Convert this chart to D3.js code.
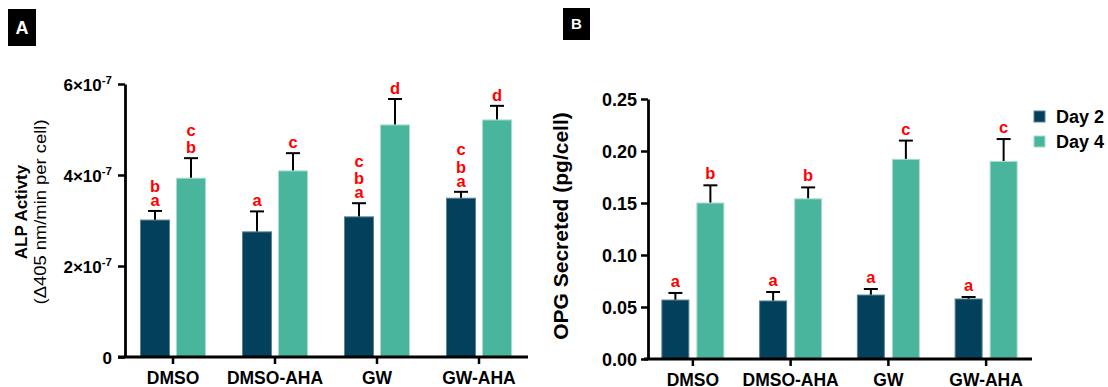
<!DOCTYPE html>
<html>
<head>
<meta charset="utf-8">
<script src="https://cdn.jsdelivr.net/npm/d3@7"></script>
<style>
  html, body { margin: 0; padding: 0; background: #fff; }
  svg { display: block; }
  text { font-family: "Liberation Sans", Arial, sans-serif; }
</style>
</head>
<body>
<svg id="chart" width="1108" height="387"></svg>
<script>
// ---------- data ----------
const categories = ["DMSO", "DMSO-AHA", "GW", "GW-AHA"];
const seriesNames = ["Day 2", "Day 4"];

// Panel A: ALP activity
const alpDay2 = [3.01e-7, 2.75e-7, 3.08e-7, 3.49e-7];
const alpDay2Err = [0.20e-7, 0.45e-7, 0.30e-7, 0.14e-7];
const alpDay4 = [3.93e-7, 4.09e-7, 5.10e-7, 5.21e-7];
const alpDay4Err = [0.44e-7, 0.39e-7, 0.57e-7, 0.31e-7];
const alpDay2Letters = [["a", "b"], ["a"], ["a", "b", "c"], ["a", "b", "c"]];
const alpDay4Letters = [["b", "c"], ["c"], ["d"], ["d"]];
const alpTicks = [0, 2e-7, 4e-7, 6e-7];

// Panel B: OPG secreted
const opgDay2 = [0.0567, 0.0558, 0.0615, 0.0577];
const opgDay2Err = [0.0068, 0.0086, 0.0058, 0.0019];
const opgDay4 = [0.150, 0.154, 0.192, 0.190];
const opgDay4Err = [0.017, 0.011, 0.018, 0.0215];
const opgDay2Letters = [["a"], ["a"], ["a"], ["a"]];
const opgDay4Letters = [["b"], ["b"], ["c"], ["c"]];
const opgTicks = [0, 0.05, 0.10, 0.15, 0.20, 0.25];

// ---------- style ----------
const colors = { "Day 2": "#03405C", "Day 4": "#4AB59D" };
const strokes = { "Day 2": "#5C8294", "Day 4": "#A9DCD0" };
const svg = d3.select("#chart");
const FONT = "'Liberation Sans', Arial, sans-serif";

function panel(opts) {
  const g = svg.append("g");
  const x = d3.scaleBand().domain(categories).range(opts.xRange);
  const sub = d3.scaleBand().domain(seriesNames)
    .range([-opts.groupW / 2, opts.groupW / 2]).paddingInner(opts.subPad);
  const y = d3.scaleLinear().domain(opts.yDomain).range(opts.yRange);

  const series = [
    { name: "Day 2", vals: opts.d2, err: opts.d2e, letters: opts.d2l },
    { name: "Day 4", vals: opts.d4, err: opts.d4e, letters: opts.d4l }
  ];
  const rows = [];
  series.forEach(s => categories.forEach((c, i) => rows.push({
    cat: c, name: s.name, v: s.vals[i], e: s.err[i], letters: s.letters[i]
  })));
  const cx = d => x(d.cat) + x.bandwidth() / 2 + sub(d.name) + sub.bandwidth() / 2;

  // error bars (upward only)
  const eb = g.append("g").attr("stroke", "#000").attr("stroke-width", 2);
  eb.selectAll("line.v").data(rows).join("line")
    .attr("x1", cx).attr("x2", cx)
    .attr("y1", d => y(d.v)).attr("y2", d => y(d.v + d.e));
  eb.selectAll("line.c").data(rows).join("line")
    .attr("x1", d => cx(d) - 7).attr("x2", d => cx(d) + 7)
    .attr("y1", d => y(d.v + d.e)).attr("y2", d => y(d.v + d.e));

  // bars
  g.append("g").selectAll("rect").data(rows).join("rect")
    .attr("x", d => cx(d) - sub.bandwidth() / 2)
    .attr("width", sub.bandwidth())
    .attr("y", d => y(d.v))
    .attr("height", d => y(0) - y(d.v))
    .attr("fill", d => colors[d.name])
    .attr("stroke", d => strokes[d.name])
    .attr("stroke-width", 1);

  // significance letters (bottom to top)
  rows.forEach(d => {
    let base = y(d.v + d.e) - opts.letterGap;
    d.letters.forEach((L, k) => {
      if (k > 0) base -= (d.letters[k - 1] === "a") ? 14 : 17.5;
      g.append("text").attr("x", cx(d)).attr("y", base)
        .attr("text-anchor", "middle")
        .attr("fill", "#FF0000").attr("font-weight", "bold")
        .attr("font-size", 16.5).attr("font-family", "'Open Sans', sans-serif")
        .text(L);
    });
  });

  // y axis
  const ya = g.append("g").attr("transform", `translate(${opts.yAxisX},0)`)
    .call(d3.axisLeft(y).tickValues(opts.ticks).tickSize(7).tickSizeOuter(0).tickFormat(""));
  ya.select(".domain").attr("stroke-width", 2.8);
  ya.selectAll(".tick line").attr("stroke-width", 2.5);
  ya.selectAll(".tick").each(function (t) { opts.tickLabel(d3.select(this), t); });

  // x axis
  const xa = g.append("g").attr("transform", `translate(0,${y(0)})`)
    .call(d3.axisBottom(x).tickSize(7).tickSizeOuter(0).tickFormat(""));
  xa.select(".domain").attr("stroke-width", 2.8)
    .attr("d", `M${opts.xAxisStart},0H${opts.xAxisEnd}`);
  xa.selectAll(".tick line").attr("stroke-width", 2.5);
  xa.selectAll(".tick").append("text")
    .attr("y", opts.xLabelY - y(0)).attr("fill", "#000")
    .attr("text-anchor", "middle").attr("font-weight", "bold")
    .attr("font-size", 17.5).attr("font-family", FONT)
    .text(d => d);
  return { x, y, g };
}

// ---------- Panel A ----------
panel({
  xRange: [122, 530], groupW: 65, subPad: 0.194,
  yDomain: [0, 6e-7], yRange: [357, 84], yAxisX: 125,
  xAxisStart: 118, xAxisEnd: 528, xLabelY: 384,
  d2: alpDay2, d2e: alpDay2Err, d4: alpDay4, d4e: alpDay4Err,
  d2l: alpDay2Letters, d4l: alpDay4Letters, letterGap: 5, ticks: alpTicks,
  tickLabel: (sel, t) => {
    const txt = sel.append("text").attr("x", -13).attr("y", 6)
      .attr("text-anchor", "end").attr("fill", "#000")
      .attr("font-weight", "bold").attr("font-size", 17).attr("font-family", FONT);
    if (t === 0) { txt.text("0"); return; }
    txt.append("tspan").text(`${Math.round(t / 1e-7)}×10`);
    txt.append("tspan").attr("dy", -7).attr("font-size", 11.5).text("-7");
  }
});

// Panel A y title
const ta = svg.append("g").attr("transform", "translate(27,212) rotate(-90)");
ta.append("text").attr("text-anchor", "middle").attr("font-weight", "bold")
  .attr("font-size", 17).attr("font-family", FONT).text("ALP Activty");
ta.append("text").attr("y", 19).attr("text-anchor", "middle")
  .attr("font-size", 17).attr("font-family", FONT)
  .attr("textLength", 185).attr("lengthAdjust", "spacingAndGlyphs")
  .text("(Δ405 nm/min per cell)");

// ---------- Panel B ----------
panel({
  xRange: [644, 1035], groupW: 62, subPad: 0.229,
  yDomain: [0, 0.25], yRange: [359, 99], yAxisX: 648,
  xAxisStart: 644, xAxisEnd: 1032, xLabelY: 386,
  d2: opgDay2, d2e: opgDay2Err, d4: opgDay4, d4e: opgDay4Err,
  d2l: opgDay2Letters, d4l: opgDay4Letters, letterGap: 6, ticks: opgTicks,
  tickLabel: (sel, t) => {
    sel.append("text").attr("x", -11).attr("y", 6)
      .attr("text-anchor", "end").attr("fill", "#000")
      .attr("font-weight", "bold").attr("font-size", 18).attr("font-family", FONT)
      .text(d3.format(".2f")(t));
  }
});

// Panel B y title
svg.append("text").attr("transform", "translate(568,226) rotate(-90)")
  .attr("text-anchor", "middle").attr("font-weight", "bold")
  .attr("font-size", 21).attr("font-family", FONT).text("OPG Secreted (pg/cell)");

// Legend
const leg = svg.append("g");
seriesNames.forEach((s, i) => {
  leg.append("rect").attr("x", 1034).attr("y", 111 + i * 25).attr("width", 11).attr("height", 11)
    .attr("fill", colors[s]).attr("stroke", strokes[s]).attr("stroke-width", 1);
  leg.append("text").attr("x", 1056).attr("y", 123 + i * 25)
    .attr("font-weight", "bold").attr("font-size", 18).attr("font-family", FONT).text(s);
});

// Panel labels
[["A", 8, 9, 28, 37, 18], ["B", 563, 8, 27, 32, 15]].forEach(([t, bx, by, w, h, fs]) => {
  svg.append("rect").attr("x", bx).attr("y", by).attr("width", w).attr("height", h).attr("fill", "#000");
  svg.append("text").attr("x", bx + w / 2).attr("y", by + h / 2 + fs * 0.36)
    .attr("text-anchor", "middle").attr("fill", "#fff").attr("font-weight", "bold")
    .attr("font-size", fs).attr("font-family", FONT).text(t);
});
</script>
</body>
</html>
